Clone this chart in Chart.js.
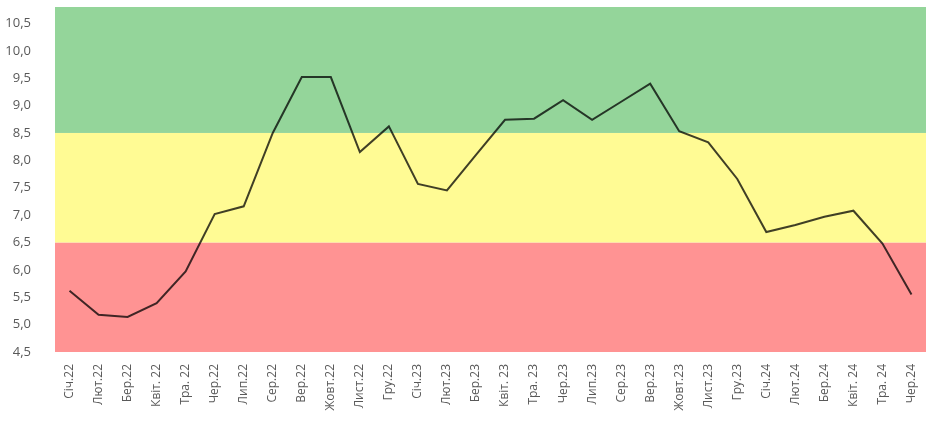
<!DOCTYPE html>
<html>
<head>
<meta charset="utf-8">
<script src="https://cdn.jsdelivr.net/npm/chart.js@4"></script>
<style>
  html, body { margin: 0; padding: 0; background: #fff; }
  #wrap { width: 930px; height: 426px; }
</style>
</head>
<body>
<div id="wrap"><canvas id="myChart" width="930" height="426"></canvas></div>
<script>
'use strict';

//***********Data***********
let months = ['Січ.22', 'Лют.22', 'Бер.22', 'Квіт. 22', 'Тра. 22', 'Чер.22', 'Лип.22', 'Сер.22', 'Вер.22', 'Жовт.22',
  'Лист.22', 'Гру.22', 'Січ.23', 'Лют.23', 'Бер.23', 'Квіт. 23', 'Тра. 23', 'Чер.23', 'Лип.23', 'Сер.23',
  'Вер.23', 'Жовт.23', 'Лист.23', 'Гру.23', 'Січ.24', 'Лют.24', 'Бер.24', 'Квіт. 24', 'Тра. 24', 'Чер.24'];

let scores = [5.62, 5.18, 5.14, 5.39, 5.97, 7.02, 7.16, 8.5, 9.52, 9.52,
  8.15, 8.62, 7.57, 7.45, 8.1, 8.74, 8.76, 9.1, 8.74, 9.07,
  9.4, 8.53, 8.33, 7.66, 6.69, 6.82, 6.97, 7.08, 6.48, 5.55];

let yTicks = [4.5, 5, 5.5, 6, 6.5, 7, 7.5, 8, 8.5, 9, 9.5, 10, 10.5];

// zone borders and colours (red, yellow, green)
let zoneLimits = [4.5, 6.5, 8.5, 10.8];
let zoneColors = ['#ff9393', '#fffb94', '#94d59a'];

//***********Plugin: coloured zones behind the line***********
let zonesPlugin = {
  id: 'zones',
  beforeDatasetsDraw(chart) {
    let ctx = chart.ctx;
    let area = chart.chartArea;
    let y = chart.scales.y;
    for (let i = 0; i < zoneColors.length; i++) {
      let top = y.getPixelForValue(zoneLimits[i + 1]);
      let bottom = y.getPixelForValue(zoneLimits[i]);
      ctx.fillStyle = zoneColors[i];
      ctx.fillRect(area.left, top, area.right - area.left, bottom - top);
    }
  }
};

let ctx = document.getElementById('myChart').getContext('2d');

new Chart(ctx, {
  type: 'line',
  data: {
    labels: months,
    datasets: [{
      data: scores,
      borderColor: 'rgba(0,0,0,0.75)',
      borderWidth: 2,
      pointRadius: 0,
      tension: 0,
      fill: false
    }]
  },
  options: {
    responsive: false,
    animation: false,
    layout: { padding: { top: 7, right: 4, left: 0, bottom: 0 } },
    plugins: {
      legend: { display: false },
      tooltip: { enabled: false }
    },
    scales: {
      x: {
        offset: true,
        grid: { display: false },
        border: { display: false },
        ticks: {
          color: '#595959',
          font: { family: 'Open Sans', size: 12 },
          minRotation: 90,
          maxRotation: 90,
          autoSkip: false,
          padding: 4
        },
        afterFit(scale) {
          scale.height = 74;
          scale.paddingTop = 0;
        }
      },
      y: {
        min: 4.5,
        max: 10.8,
        grid: { display: false },
        border: { display: false },
        afterBuildTicks(scale) {
          scale.ticks = yTicks.map(v => ({ value: v }));
        },
        ticks: {
          color: '#595959',
          font: { family: 'Open Sans', size: 13 },
          padding: 16,
          callback: v => Number(v).toFixed(1).replace('.', ',')
        },
        afterFit(scale) {
          scale.width = 55;
          scale.paddingTop = 0;
          scale.paddingBottom = 0;
        }
      }
    }
  },
  plugins: [zonesPlugin]
});
</script>
</body>
</html>
